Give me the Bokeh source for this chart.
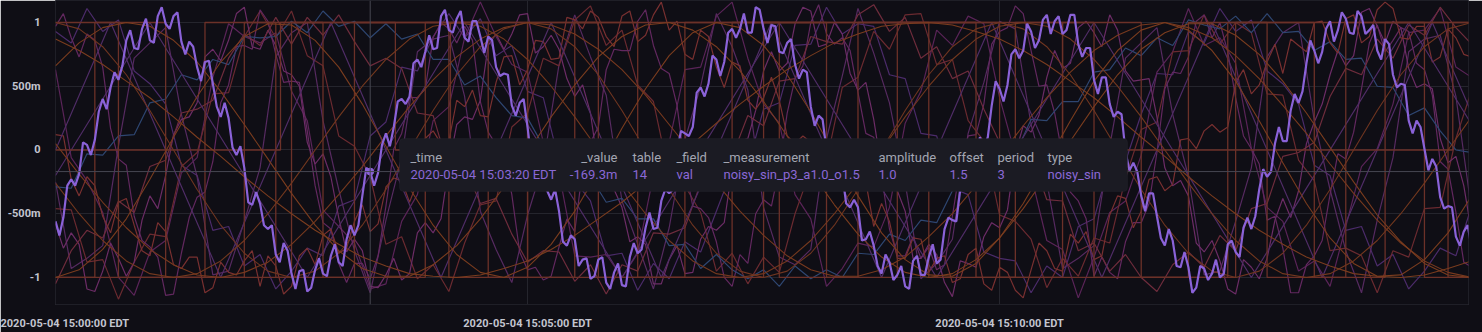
from bokeh.plotting import figure
from bokeh.models import FixedTicker, BoxAnnotation, Label, Span
from bokeh.embed import file_html
from bokeh.resources import INLINE

# ---------------- data (seconds after 2020-05-04 15:00:00 EDT) ----------------
T2_5 = [i * 2.5 for i in range(361)]
T5 = list(range(0, 901, 5))
T10 = list(range(0, 901, 10))
T15 = list(range(0, 901, 15))

X_TICKS = [0, 300, 600]
X_LABELS = ["2020-05-04 15:00:00 EDT", "2020-05-04 15:05:00 EDT", "2020-05-04 15:10:00 EDT"]
Y_TICKS = [-1, -0.5, 0, 0.5, 1]
Y_LABELS = ["-1", "-500m", "0", "500m", "1"]

# highlighted series: noisy_sin_p3_a1.0_o1.5 (2.5 s steps)
PURPLE = [
    -0.56, -0.67, -0.53, -0.28, -0.23, -0.28, -0.19, 0.06, 0.04, -0.04,
    0.08, 0.30, 0.40, 0.32, 0.49, 0.61, 0.55, 0.66, 0.86, 0.94,
    0.80, 0.79, 0.95, 1.03, 0.86, 0.84, 1.05, 1.12, 0.99, 0.95,
    1.05, 1.08, 0.85, 0.75, 0.85, 0.81, 0.65, 0.54, 0.69, 0.70,
    0.52, 0.34, 0.26, 0.37, 0.25, 0.02, -0.04, 0.03, -0.14, -0.41,
    -0.43, -0.33, -0.42, -0.59, -0.62, -0.59, -0.82, -0.88, -0.73, -0.79,
    -0.97, -1.09, -0.95, -0.94, -1.11, -1.08, -0.94, -0.85, -0.97, -0.99,
    -0.83, -0.74, -0.88, -0.91, -0.70, -0.59, -0.67, -0.59, -0.36, -0.14,
    -0.1693, -0.28, -0.18, 0.04, 0.13, 0.03, 0.18, 0.38, 0.40, 0.36,
    0.42, 0.68, 0.71, 0.65, 0.77, 0.90, 0.79, 0.80, 1.05, 1.10,
    0.94, 0.92, 1.03, 1.09, 0.88, 0.85, 1.01, 1.01, 0.89, 0.76,
    0.89, 0.86, 0.65, 0.58, 0.60, 0.59, 0.35, 0.27, 0.37, 0.40,
    0.18, -0.08, -0.10, -0.01, -0.11, -0.32, -0.39, -0.31, -0.48, -0.72,
    -0.75, -0.67, -0.70, -0.91, -0.86, -0.85, -1.01, -0.99, -0.86, -0.84,
    -1.04, -1.09, -0.96, -0.89, -1.06, -1.07, -0.84, -0.73, -0.81, -0.78,
    -0.61, -0.49, -0.62, -0.61, -0.40, -0.31, -0.34, -0.31, -0.01, 0.15,
    0.13, 0.11, 0.18, 0.45, 0.49, 0.42, 0.52, 0.74, 0.71, 0.58,
    0.69, 0.92, 0.95, 0.88, 0.95, 1.07, 0.92, 0.92, 1.12, 1.10,
    0.95, 0.84, 0.98, 0.97, 0.77, 0.76, 0.84, 0.87, 0.67, 0.56,
    0.63, 0.61, 0.34, 0.19, 0.27, 0.24, 0.00, -0.07, 0.01, 0.04,
    -0.19, -0.42, -0.45, -0.39, -0.45, -0.71, -0.70, -0.64, -0.75, -0.91,
    -0.97, -0.82, -0.88, -1.02, -0.98, -0.91, -1.07, -1.09, -0.87, -0.83,
    -0.98, -0.98, -0.84, -0.74, -0.89, -0.86, -0.62, -0.53, -0.55, -0.56,
    -0.31, -0.21, -0.29, -0.22, -0.05, 0.10, 0.02, 0.10, 0.35, 0.54,
    0.48, 0.38, 0.51, 0.75, 0.79, 0.72, 0.78, 0.99, 0.93, 0.80,
    0.86, 1.02, 1.06, 0.91, 1.01, 1.05, 0.91, 0.94, 1.06, 1.06,
    0.83, 0.73, 0.80, 0.80, 0.55, 0.44, 0.57, 0.57, 0.36, 0.26,
    0.30, 0.28, -0.01, -0.16, -0.10, -0.17, -0.36, -0.48, -0.34, -0.34,
    -0.52, -0.69, -0.75, -0.62, -0.71, -0.91, -0.92, -0.80, -0.92, -1.12,
    -1.08, -0.91, -0.93, -1.02, -0.97, -0.86, -1.00, -0.97, -0.74, -0.71,
    -0.80, -0.84, -0.61, -0.53, -0.62, -0.52, -0.31, -0.15, -0.21, -0.17,
    0.05, 0.18, 0.07, 0.07, 0.31, 0.44, 0.37, 0.46, 0.68, 0.86,
    0.78, 0.68, 0.77, 0.95, 1.01, 0.85, 0.94, 1.08, 1.03, 0.92,
    0.91, 1.09, 1.05, 0.91, 0.94, 0.98, 0.78, 0.71, 0.87, 0.83,
    0.59, 0.49, 0.52, 0.51, 0.23, 0.13, 0.23, 0.18, 0.01, -0.16,
    -0.07, -0.13, -0.37, -0.46, -0.44, -0.45, -0.68, -0.75, -0.64, -0.59,
    -0.77,
]
HOVER_INDEX = 80

# other noisy series
RED_1 = [  # 5 s steps
    0.12, 0.11, -0.23, -0.36, -0.21, -0.28, -0.52, -0.65, -0.41, -0.38,
    -0.59, -0.79, -0.83, -0.57, -0.64, -0.90, -0.93, -0.84, -0.84, -1.12,
    -1.08, -0.88, -0.96, -0.98, -0.87, -0.79, -1.07, -0.83, -0.91, -1.13,
    -1.07, -0.83, -0.77, -0.90, -0.67, -0.62, -0.81, -0.77, -0.56, -0.43,
    -0.64, -0.58, -0.29, -0.22, -0.24, -0.41, -0.25, 0.09, 0.15, 0.05,
    0.07, 0.39, 0.34, 0.47, 0.27, 0.26, 0.53, 0.73, 0.74, 0.51,
    0.63, 0.86, 0.85, 0.71, 0.72, 1.04, 1.02, 0.95, 1.09, 1.04,
    0.89, 0.81, 1.05, 1.09, 0.85, 0.90, 1.06, 1.16, 0.94, 1.01,
    0.75, 0.71, 0.94, 0.89, 0.65, 0.49, 0.69, 0.66, 0.39, 0.32,
    0.41, 0.57, 0.39, 0.11, 0.05, 0.11, 0.06, -0.27, -0.28, -0.08,
    -0.16, -0.27, -0.26, -0.25, -0.60, -0.42, -0.56, -0.85, -0.85, -0.69,
    -0.70, -0.96, -0.85, -0.83, -1.04, -1.01, -0.82, -0.77, -1.05, -1.10,
    -0.92, -0.96, -1.10, -1.16, -0.94, -0.73, -0.79, -0.93, -0.95, -0.66,
    -0.73, -0.64, -0.86, -0.83, -0.51, -0.36, -0.38, -0.61, -0.48, -0.23,
    -0.21, -0.32, -0.27, 0.08, 0.09, 0.01, 0.15, 0.20, 0.14, 0.18,
    0.53, 0.63, 0.44, 0.51, 0.69, 0.83, 0.60, 0.87, 0.82, 0.77,
    1.00, 1.01, 0.84, 0.76, 1.03, 1.06, 0.84, 0.89, 1.10, 1.16,
    1.11, 0.88, 0.87, 0.97, 0.97, 0.69, 0.73, 0.95, 0.88, 0.75,
    0.73,
]
MAG_2 = [  # 5 s steps
    -0.58, -0.77, -0.65, -0.74, -1.09, -1.11, -0.95, -0.73, -0.85, -0.99,
    -0.88, -0.55, -0.36, -0.46, -0.20, 0.12, 0.24, 0.26, 0.37, 0.73,
    0.79, 0.70, 0.86, 1.07, 1.12, 0.81, 0.79, 0.94, 0.82, 0.62,
    0.59, 0.50, 0.06, -0.11, -0.03, -0.21, -0.53, -0.80, -0.70, -0.79,
    -1.07, -1.08, -0.98, -0.85, -1.02, -0.97, -0.65, -0.57, -0.65, -0.54,
    -0.12, 0.20, 0.26, 0.24, 0.39, 0.82, 0.91, 0.79, 0.91, 1.06,
    1.07, 0.76, 0.81, 0.90, 0.79, 0.56, 0.42, 0.51, 0.29, -0.15,
    -0.32, -0.31, -0.45, -0.72, -0.68, -0.74, -1.05, -1.05, -0.86, -0.75,
    -0.97, -0.96, -0.70, -0.60, -0.63, -0.57, -0.15, 0.07, 0.09, 0.31,
    0.62, 0.77, 0.62, 0.68, 0.99, 1.12, 1.09, 0.81, 0.83, 1.00,
    0.91, 0.60, 0.47, 0.53, 0.24, -0.15, -0.30, -0.32, -0.48, -0.85,
    -0.85, -0.74, -0.82, -1.04, -1.15, -0.87, -0.89, -0.92, -0.68, -0.57,
    -0.61, -0.47, -0.03, 0.19, 0.14, 0.27, 0.57, 0.78, 0.64, 0.68,
    0.96, 1.01, 0.92, 0.81, 1.06, 0.94, 0.62, 0.54, 0.55, 0.56,
    0.26, -0.14, -0.28, -0.24, -0.36, -0.73, -0.80, -0.71, -0.87, -1.09,
    -1.13, -0.86, -0.92, -1.01, -0.85, -0.55, -0.38, -0.53, -0.32, 0.05,
    0.22, 0.36, 0.59, 0.78, 0.66, 0.74, 1.08, 1.11, 0.97, 0.84,
    1.01, 0.96, 0.64, 0.49, 0.52, 0.48, 0.09, -0.10, -0.05, -0.28,
    -0.65,
]
MAG_1 = [  # 5 s steps
    0.97, 1.07, 0.88, 0.73, 0.91, 0.86, 0.65, 0.17, -0.07, -0.12,
    -0.52, -0.71, -0.76, -0.84, -1.14, -1.13, -0.81, -0.53, -0.37, -0.33,
    -0.09, 0.37, 0.51, 0.81, 0.82, 0.79, 1.10, 1.01, 0.75, 0.53,
    0.54, 0.53, 0.15, -0.28, -0.57, -0.62, -0.89, -1.04, -0.89, -0.89,
    -1.01, -0.83, -0.44, 0.01, 0.13, 0.41, 0.41, 0.48, 0.88, 1.00,
    0.95, 0.84, 0.97, 0.86, 0.38, 0.14, 0.04, -0.05, -0.35, -0.80,
    -0.94, -0.92, -1.02, -0.99, -0.76, -0.54, -0.64, -0.15, 0.06, 0.18,
    0.63, 0.79, 0.78, 0.78, 1.01, 1.10, 0.82, 0.64, 0.60, 0.35,
    -0.12, -0.44, -0.46, -0.53, -0.72, -1.00, -1.07, -0.82, -0.89, -0.50,
    -0.39, -0.44, -0.14, 0.29, 0.56, 0.66, 1.00, 1.14, 0.91, 0.83,
    0.88, 0.78, 0.45, 0.13, 0.10, -0.20, -0.62, -0.83, -0.83, -0.68,
    -0.85, -0.76, -0.94, -0.90, -0.52, -0.13, 0.11, 0.12, 0.36, 0.83,
    0.93, 0.96, 1.13, 1.07, 0.78, 0.50, 0.51, 0.29, -0.05, -0.33,
    -0.40, -0.54, -0.99, -0.84, -0.96, -1.01, -0.72, -0.57, -0.57, -0.42,
    -0.02, 0.48, 0.61, 0.60, 0.73, 1.01, 1.06, 0.88, 1.00, 0.77,
    0.41, 0.11, 0.01, -0.11, -0.55, -0.52, -0.77, -1.12, -1.12, -0.90,
    -0.83, -0.71, -0.35, -0.03, -0.07, 0.14, 0.48, 0.84, 0.98, 0.77,
    0.86, 0.96, 0.93, 0.68, 0.63, 0.43, -0.09, -0.15, -0.49, -0.88,
    -0.92,
]
BLUE_1 = [  # 10 s steps
    -0.29, -0.30, -0.03, -0.04, 0.11, 0.12, 0.37, 0.40, 0.59, 0.55,
    0.71, 0.67, 0.89, 0.88, 0.89, 1.01, 0.92, 1.09, 0.97, 1.01,
    0.88, 0.99, 0.87, 0.91, 0.71, 0.71, 0.51, 0.58, 0.41, 0.27,
    0.25, 0.03, 0.08, -0.15, -0.21, -0.41, -0.38, -0.54, -0.54, -0.75,
    -0.74, -0.93, -0.82, -0.94, -1.01, -0.94, -1.07, -0.91, -1.01, -0.94,
    -1.00, -0.81, -0.82, -0.66, -0.71, -0.55, -0.57, -0.32, -0.28, -0.22,
    -0.02, -0.03, 0.24, 0.23, 0.38, 0.38, 0.61, 0.63, 0.80, 0.74,
    0.88, 0.82, 1.02, 0.98, 0.95, 1.05, 0.92, 1.07, 0.92, 0.93,
    0.78, 0.85, 0.71, 0.72, 0.50, 0.49, 0.27, 0.33, 0.15, 0.00,
    -0.02,
]
RED_2 = [  # 10 s steps
    -1.05, -0.79, -0.63, -0.69, -0.40, -0.49, -0.13, -0.08, 0.29, 0.32,
    0.39, 0.72, 0.91, 0.82, 1.04, 0.83, 1.04, 0.90, 1.06, 0.85,
    0.66, 0.72, 0.64, 0.29, 0.27, -0.15, -0.13, -0.42, -0.38, -0.66,
    -0.88, -0.79, -0.80, -1.03, -0.90, -1.13, -0.90, -0.95, -0.65, -0.66,
    -0.61, -0.26, -0.03, -0.05, 0.27, 0.19, 0.54, 0.56, 0.89, 0.85,
    0.83, 1.06, 1.14, 0.93, 1.04, 0.72, 0.81, 0.56, 0.62, 0.32,
    0.06, 0.08, -0.03, -0.39, -0.40, -0.79, -0.73, -0.95, -0.82, -1.00,
    -1.11, -0.90, -0.80, -0.92, -0.67, -0.79, -0.46, -0.42, -0.05, -0.02,
    0.06, 0.42, 0.64, 0.59, 0.87, 0.72, 0.98, 0.90, 1.12, 0.96,
    0.83,
]
RED_3 = [  # 10 s steps
    -0.46, -0.47, -0.88, -0.86, -1.17, -0.88, -0.66, -0.68, -0.13, -0.02,
    0.44, 0.45, 0.89, 1.09, 0.88, 1.09, 0.74, 0.66, 0.11, 0.03,
    -0.21, -0.74, -0.68, -1.01, -0.90, -1.11, -0.73, -0.43, -0.40, 0.18,
    0.29, 0.72, 0.66, 1.02, 1.13, 0.82, 0.94, 0.51, 0.38, -0.20,
    -0.28, -0.49, -0.95, -0.81, -1.05, -0.84, -0.96, -0.50, -0.15, -0.09,
    0.49, 0.57, 0.93, 0.79, 1.06, 1.07, 0.67, 0.71, 0.23, 0.07,
    -0.51, -0.56, -0.70, -1.08, -0.85, -0.99, -0.69, -0.73, -0.22, 0.16,
    0.22, 0.77, 0.78, 1.06, 0.83, 1.00, 0.92, 0.44, 0.43, -0.08,
    -0.24, -0.79, -0.77, -0.83, -1.12, -0.79, -0.84, -0.46, -0.45, 0.09,
    0.47,
]
MAG_3 = [  # 10 s steps
    0.93, 0.84, 1.11, 0.93, 1.02, 0.62, 0.52, 0.36, -0.12, -0.20,
    -0.63, -0.60, -0.91, -0.82, -1.09, -0.95, -0.77, -0.83, -0.44, -0.39,
    0.11, 0.22, 0.65, 0.62, 0.89, 1.07, 0.88, 1.03, 0.74, 0.82,
    0.46, 0.41, -0.09, -0.24, -0.40, -0.83, -0.81, -1.10, -0.89, -1.01,
    -0.72, -0.80, -0.48, -0.16, -0.12, 0.32, 0.37, 0.82, 0.83, 1.12,
    0.91, 0.99, 0.97, 0.59, 0.56, 0.13, 0.11, -0.30, -0.35, -0.80,
    -0.85, -0.87, -1.12, -0.91, -1.00, -0.60, -0.54, -0.11, -0.09, 0.28,
    0.60, 0.59, 0.93, 0.84, 1.11, 0.93, 1.02, 0.62, 0.52, 0.36,
    -0.12, -0.20, -0.63, -0.60, -0.91, -0.82, -1.09, -0.95, -0.77, -0.83,
    -0.44,
]
MAG_4 = [  # 10 s steps
    -0.25, -0.93, -0.85, -0.75, 0.03, 0.72, 0.84, 0.96, 0.28, -0.21,
    -0.98, -0.95, -0.56, -0.14, 0.73, 0.92, 1.00, 0.23, -0.31, -0.79,
    -1.12, -0.55, -0.06, 0.77, 0.87, 0.90, 0.42, -0.48, -0.78, -1.04,
    -0.51, -0.11, 0.67, 1.06, 0.73, 0.43, -0.40, -0.74, -1.09, -0.61,
    0.08, 0.50, 1.07, 0.81, 0.47, -0.45, -0.84, -0.90, -0.78, 0.09,
    0.58, 1.11, 0.76, 0.37, -0.26, -1.01, -0.89, -0.70, 0.13, 0.53,
    1.01, 0.95, 0.20, -0.25, -0.93, -0.85, -0.75, 0.03, 0.72, 0.84,
    0.96, 0.28, -0.21, -0.98, -0.95, -0.56, -0.14, 0.73, 0.92, 1.00,
    0.23, -0.31, -0.79, -1.12, -0.55, -0.06, 0.77, 0.87, 0.90, 0.42,
    -0.48,
]
MAG_5 = [  # 10 s steps
    0.63, -0.06, -0.24, -0.49, -1.00, -1.14, -0.80, -0.71, -0.18, -0.06,
    0.57, 0.99, 0.89, 0.84, 0.92, 0.46, 0.23, -0.47, -0.60, -0.73,
    -1.09, -1.05, -0.56, -0.35, 0.23, 0.34, 0.88, 1.16, 0.89, 0.67,
    0.61, 0.06, -0.18, -0.83, -0.84, -0.82, -1.00, -0.81, -0.20, 0.06,
    0.63, 0.65, 1.05, 1.16, 0.72, 0.36, 0.21, -0.35, -0.54, -1.07,
    -0.93, -0.73, -0.76, -0.45, 0.21, 0.46, 0.94, 0.82, 1.05, 0.99,
    0.41, -0.04, -0.20, -0.71, -0.78, -1.16, -0.84, -0.49, -0.40, -0.04,
    0.61, 0.77, 1.11, 0.82, 0.88, 0.68, 0.01, -0.45, -0.56, -0.95,
    -0.87, -1.07, -0.60, -0.13, 0.01, 0.36, 0.92, 0.94, 1.11, 0.65,
    0.57,
]

# smooth sines (15 s steps)
SIN_1 = [
    -1.00, -0.94, -0.78, -0.54, -0.23, 0.10, 0.42, 0.69, 0.89, 0.99,
    0.98, 0.86, 0.65, 0.36, 0.03, -0.30, -0.59, -0.82, -0.96, -1.00,
    -0.92, -0.74, -0.48, -0.17, 0.17, 0.48, 0.74, 0.92, 1.00, 0.96,
    0.82, 0.59, 0.30, -0.03, -0.36, -0.65, -0.86, -0.98, -0.99, -0.89,
    -0.69, -0.42, -0.10, 0.23, 0.54, 0.78, 0.94, 1.00, 0.94, 0.78,
    0.54, 0.23, -0.10, -0.42, -0.69, -0.89, -0.99, -0.98, -0.86, -0.65,
    -0.36,
]
SIN_2 = [
    1.00, 0.95, 0.81, 0.59, 0.31, 0.00, -0.31, -0.59, -0.81, -0.95,
    -1.00, -0.95, -0.81, -0.59, -0.31, 0.00, 0.31, 0.59, 0.81, 0.95,
    1.00, 0.95, 0.81, 0.59, 0.31, 0.00, -0.31, -0.59, -0.81, -0.95,
    -1.00, -0.95, -0.81, -0.59, -0.31, 0.00, 0.31, 0.59, 0.81, 0.95,
    1.00, 0.95, 0.81, 0.59, 0.31, 0.00, -0.31, -0.59, -0.81, -0.95,
    -1.00, -0.95, -0.81, -0.59, -0.31, 0.00, 0.31, 0.59, 0.81, 0.95,
    1.00,
]
SIN_3 = [
    0.05, -0.19, -0.41, -0.61, -0.78, -0.90, -0.98, -1.00, -0.96, -0.88,
    -0.74, -0.56, -0.35, -0.13, 0.11, 0.34, 0.55, 0.73, 0.87, 0.96,
    1.00, 0.98, 0.91, 0.79, 0.63, 0.43, 0.20, -0.03, -0.26, -0.48,
    -0.67, -0.83, -0.94, -0.99, -0.99, -0.94, -0.84, -0.68, -0.50, -0.28,
    -0.05, 0.19, 0.41, 0.61, 0.78, 0.90, 0.98, 1.00, 0.96, 0.88,
    0.74, 0.56, 0.35, 0.13, -0.11, -0.34, -0.55, -0.73, -0.87, -0.96,
    -1.00,
]
SIN_4 = [
    0.66, 0.84, 0.96, 1.00, 0.97, 0.86, 0.69, 0.46, 0.20, -0.07,
    -0.34, -0.59, -0.79, -0.93, -0.99, -0.99, -0.90, -0.75, -0.54, -0.29,
    -0.02, 0.26, 0.51, 0.73, 0.89, 0.98, 1.00, 0.94, 0.81, 0.62,
    0.38, 0.11, -0.17, -0.43, -0.66, -0.84, -0.96, -1.00, -0.97, -0.86,
    -0.69, -0.46, -0.20, 0.07, 0.34, 0.59, 0.79, 0.92, 0.99, 0.99,
    0.90, 0.75, 0.54, 0.29, 0.02, -0.25, -0.51, -0.72, -0.89, -0.98,
    -1.00,
]
SIN_5 = [
    -0.26, -0.50, -0.71, -0.87, -0.97, -1.00, -0.97, -0.87, -0.71, -0.50,
    -0.26, 0.00, 0.26, 0.50, 0.71, 0.87, 0.97, 1.00, 0.97, 0.87,
    0.71, 0.50, 0.26, 0.00, -0.26, -0.50, -0.71, -0.87, -0.97, -1.00,
    -0.97, -0.87, -0.71, -0.50, -0.26, 0.00, 0.26, 0.50, 0.71, 0.87,
    0.97, 1.00, 0.97, 0.87, 0.71, 0.50, 0.26, 0.00, -0.26, -0.50,
    -0.71, -0.87, -0.97, -1.00, -0.97, -0.87, -0.71, -0.50, -0.26, 0.00,
    0.26,
]
SIN_6 = [
    0.87, 0.78, 0.67, 0.54, 0.41, 0.26, 0.10, -0.05, -0.21, -0.36,
    -0.50, -0.63, -0.74, -0.84, -0.91, -0.97, -0.99, -1.00, -0.98, -0.93,
    -0.87, -0.78, -0.67, -0.54, -0.41, -0.26, -0.10, 0.05, 0.21, 0.36,
    0.50, 0.63, 0.74, 0.84, 0.91, 0.97, 0.99, 1.00, 0.98, 0.93,
    0.87, 0.78, 0.67, 0.54, 0.41, 0.26, 0.10, -0.05, -0.21, -0.36,
    -0.50, -0.63, -0.74, -0.84, -0.91, -0.97, -0.99, -1.00, -0.98, -0.93,
    -0.87,
]

# triangle waves (corner points)
TRI_1_T = [0, 35, 105, 175, 245, 315, 385, 455, 525, 595, 665, 735, 805, 875, 900]
TRI_1_V = [0.0, 1, -1, 1, -1, 1, -1, 1, -1, 1, -1, 1, -1, 1, 0.29]
TRI_2_T = [0, 60, 160, 260, 360, 460, 560, 660, 760, 860, 900]
TRI_2_V = [-0.2, 1, -1, 1, -1, 1, -1, 1, -1, 1, 0.2]

# square waves (change points)
SQ_1_T = [0, 40, 95, 140, 190, 250, 300, 345, 400, 460, 510, 555, 610, 660, 720, 770, 820, 870, 900]
SQ_1_V = [1, -1, 1, -1, 1, -1, 1, -1, 1, -1, 1, -1, 1, -1, 1, -1, 1, -1, -1]
SQ_2_T = [0, 143, 216, 251, 640, 888, 900]
SQ_2_V = [0, 1, 0, 1, 0, 1, 1]
SQ_3_T = [0, 150, 300, 450, 600, 750, 900]
SQ_3_V = [-1, 1, -1, 1, -1, 1, 1]
SQ_4_T = [0, 25, 70, 120, 170, 235, 275, 330, 370, 430, 490, 535, 585, 640, 690, 745, 800, 845, 885, 900]
SQ_4_V = [-1, 1, -1, 1, -1, 1, -1, 1, -1, 1, -1, 1, -1, 1, -1, 1, -1, 1, -1, -1]

# tooltip content
TT_HEAD = ["_time", "_value", "table", "_field", "_measurement", "amplitude", "offset", "period", "type"]
TT_VALS = ["2020-05-04 15:03:20 EDT", "-169.3m", "14", "val", "noisy_sin_p3_a1.0_o1.5",
           "1.0", "1.5", "3", "noisy_sin"]

# ---------------- styling / layout ----------------
BG = "#0f0e15"
GRID = "#25252d"
PURPLE_C = "#8a62d8"
W, H = 1482, 332
LEFT, RIGHT, TOP, BOTTOM = 55, 14, 0, 28
X0, X1 = 0, 898
Y0, Y1 = -1.212, 1.1725

p = figure(width=W, height=H, x_range=(X0, X1), y_range=(Y0, Y1),
           output_backend="svg", toolbar_location=None,
           min_border_left=LEFT, min_border_right=RIGHT,
           min_border_top=TOP, min_border_bottom=BOTTOM,
           background_fill_color=BG, border_fill_color=BG,
           outline_line_color="#1f1f27")

fw = W - LEFT - RIGHT
fh = H - TOP - BOTTOM


def dx(px):
    return X0 + (px - LEFT) * (X1 - X0) / fw


def dy(py):
    return Y1 - (py - TOP) * (Y1 - Y0) / fh


for ax in (p.xaxis, p.yaxis):
    ax.axis_line_color = None
    ax.major_tick_line_color = None
    ax.minor_tick_line_color = None
    ax.major_label_text_font = "Roboto"
    ax.major_label_text_font_style = "bold"
    ax.major_label_text_font_size = "11px"
    ax.major_label_text_color = "#c3c5cf"

p.xaxis.ticker = FixedTicker(ticks=X_TICKS)
p.xaxis.major_label_overrides = {t: s for t, s in zip(X_TICKS, X_LABELS)}
p.xaxis.major_label_standoff = 6
p.yaxis.ticker = FixedTicker(ticks=Y_TICKS)
p.yaxis.major_label_overrides = {t: s for t, s in zip(Y_TICKS, Y_LABELS)}
p.yaxis.major_label_standoff = 9

p.xgrid.grid_line_color = GRID
p.ygrid.grid_line_color = GRID

# background noisy series
for ts, ys, col in [(T10, MAG_3, "#4b2b6a"), (T10, MAG_4, "#562a60"),
                    (T10, MAG_5, "#5a2458"), (T10, RED_3, "#6a2a30"),
                    (T5, MAG_1, "#62285f"), (T5, MAG_2, "#6c2c66"),
                    (T10, BLUE_1, "#2e4671"), (T10, RED_2, "#6e2c3c"),
                    (T5, RED_1, "#793030")]:
    p.line(ts, ys, line_color=col, line_width=1.2)

for ts, vs in [(TRI_1_T, TRI_1_V), (TRI_2_T, TRI_2_V)]:
    p.line(ts, vs, line_color="#4f2c66", line_width=1.2)

for ts, vs in [(SQ_1_T, SQ_1_V), (SQ_2_T, SQ_2_V), (SQ_3_T, SQ_3_V), (SQ_4_T, SQ_4_V)]:
    p.step(ts, vs, mode="after", line_color="#6c3128", line_width=1.3)

for ys, col in [(SIN_1, "#7a3c1e"), (SIN_2, "#6f3520"), (SIN_3, "#77391e"),
                (SIN_4, "#7a3c1e"), (SIN_5, "#73381e"), (SIN_6, "#7a3c1e")]:
    p.line(T15, ys, line_color=col, line_width=1.1)

# highlighted series
p.line(T2_5, PURPLE, line_color=PURPLE_C, line_width=2.2)

# crosshair + hover point
hx, hy = T2_5[HOVER_INDEX], PURPLE[HOVER_INDEX]
p.add_layout(Span(location=hx, dimension="height", line_color="#474752", line_width=1))
p.add_layout(Span(location=hy, dimension="width", line_color="#474752", line_width=1))
p.scatter([hx], [hy], size=7, color=PURPLE_C)

# tooltip
box = BoxAnnotation(left=dx(399), right=dx(1127), top=dy(138), bottom=dy(191),
                    fill_color="#1b1b23", fill_alpha=1.0, line_color="#2a2a34",
                    line_width=1, border_radius=4, level="overlay")
p.add_layout(box)

COL_PX = [410, 617, 632, 676, 723, 878, 949, 997, 1047]
COL_ALIGN = ["left", "right", "left", "left", "left", "left", "left", "left", "left"]
for head, val, px, al in zip(TT_HEAD, TT_VALS, COL_PX, COL_ALIGN):
    p.add_layout(Label(x=dx(px), y=dy(157), text=head, text_align=al, text_baseline="middle",
                       text_font="Roboto", text_font_size="13px", text_color="#a3a6b2",
                       level="overlay"))
    p.add_layout(Label(x=dx(px), y=dy(174), text=val, text_align=al, text_baseline="middle",
                       text_font="Roboto", text_font_size="13px", text_color="#8a68d6",
                       level="overlay"))

open("out.html", "w").write(file_html(p, INLINE))
